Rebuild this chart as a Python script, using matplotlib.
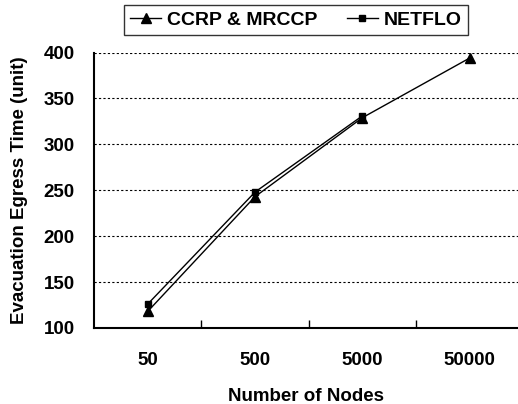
import numpy as np
import matplotlib
matplotlib.use("Agg")
import matplotlib.pyplot as plt

plt.rcParams['font.family'] = ['Liberation Sans', 'DejaVu Sans']
plt.rcParams['font.weight'] = 'bold'

nodes = ["50", "500", "5000", "50000"]
ccrp = [118, 243, 329, 394]
netflo = [126, 248, 331]
y_ticks = [100, 150, 200, 250, 300, 350, 400]

fig = plt.figure(figsize=(5.18, 4.04), dpi=100)
ax = fig.add_axes([94 / 518, 1 - 328 / 404, (518 - 94) / 518, (328 - 52.5) / 404])

x = np.arange(len(nodes))
ax.plot(x, ccrp, color="black", lw=1.0, marker="^", ms=7.5, label="CCRP & MRCCP")
ax.plot(x[:len(netflo)], netflo, color="black", lw=1.0, marker="s", ms=5, label="NETFLO")

ax.set_xlim(-0.5, 3.45)
ax.set_ylim(100, 400)
ax.set_yticks(y_ticks)
ax.set_xticks(x)
ax.set_xticklabels(nodes)
ax.set_xticks([0.5, 1.5, 2.5], minor=True)
ax.tick_params(axis="x", which="major", length=0, pad=17, labelsize=13.5)
ax.tick_params(axis="x", which="minor", direction="in", length=6, width=1)
ax.tick_params(axis="y", length=0, pad=14, labelsize=13.5)

ax.yaxis.grid(True, color="black", linestyle=(0, (2, 2)), lw=0.8)
ax.spines["right"].set_visible(False)
ax.spines["top"].set_visible(False)
ax.spines["left"].set_linewidth(1.5)
ax.spines["bottom"].set_linewidth(1.5)

ax.set_xlabel("Number of Nodes", fontsize=13.5, fontweight="bold", labelpad=14)
ax.set_ylabel("Evacuation Egress Time (unit)", fontsize=13.5, fontweight="bold", labelpad=11)

leg = ax.legend(loc="center", bbox_to_anchor=(296 / 518, 1 - 20 / 404), bbox_transform=fig.transFigure,
                ncol=2, frameon=True, fancybox=False, edgecolor="black", fontsize=14,
                handlelength=1.6, columnspacing=1.5, handletextpad=0.3, borderpad=0.3)
leg.get_frame().set_linewidth(1.0)

fig.savefig("out.png", dpi=100)
